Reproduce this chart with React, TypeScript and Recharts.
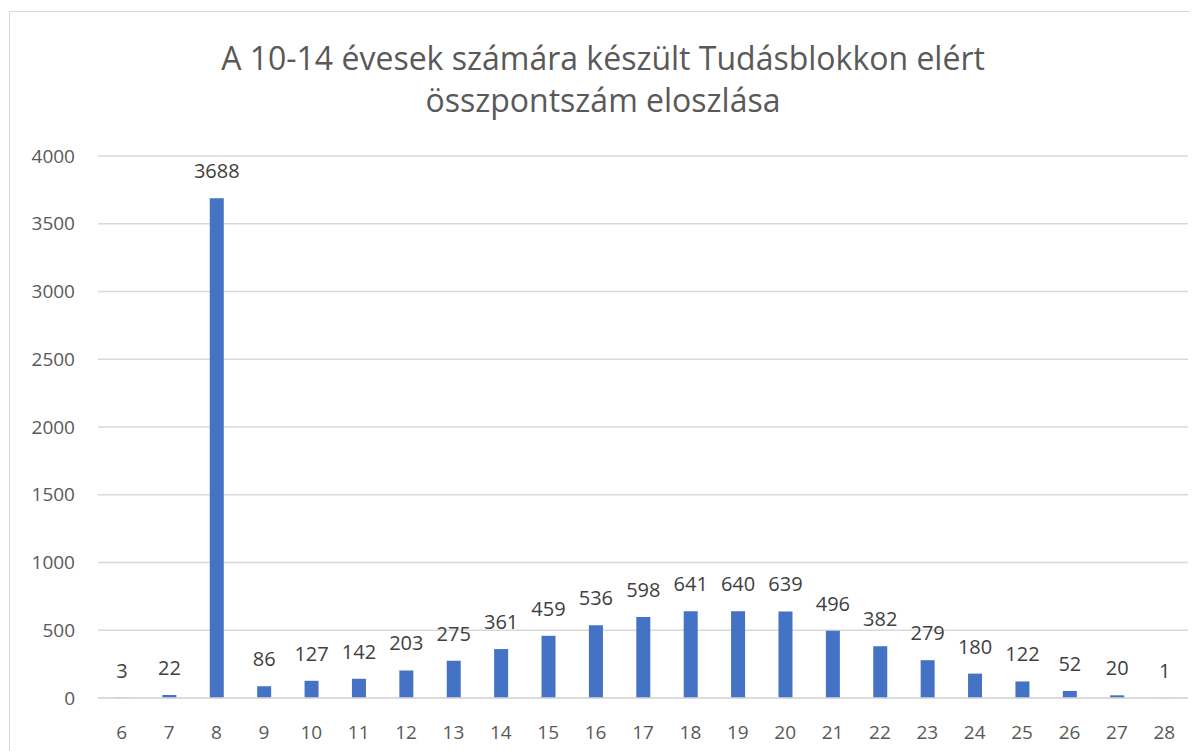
import { Bar, BarChart, CartesianGrid, LabelList, XAxis, YAxis } from "recharts";

const scores = ["6", "7", "8", "9", "10", "11", "12", "13", "14", "15", "16", "17", "18", "19", "20", "21", "22", "23", "24", "25", "26", "27", "28"];
const counts = [3, 22, 3688, 86, 127, 142, 203, 275, 361, 459, 536, 598, 641, 640, 639, 496, 382, 279, 180, 122, 52, 20, 1];
const yTicks = [0, 500, 1000, 1500, 2000, 2500, 3000, 3500, 4000];

const data = scores.map((name, i) => ({ name, value: counts[i] }));

const font = "'Open Sans', 'Noto Sans', sans-serif";

export default function App() {
  return (
    <div style={{ position: "relative", width: 1190, height: 743, fontFamily: font, overflow: "hidden" }}>
      <div
        style={{
          position: "absolute",
          left: 1,
          top: 3,
          width: 1300,
          height: 900,
          border: "1.5px solid #d9d9d9",
          boxSizing: "border-box",
        }}
      />
      <div
        style={{
          position: "absolute",
          left: 0,
          top: 29,
          width: 1190,
          textAlign: "center",
          fontSize: 32,
          lineHeight: "42px",
          color: "#595959",
        }}
      >
        A 10-14 évesek számára készült Tudásblokkon elért
        <br />
        összpontszám eloszlása
      </div>
      <BarChart
        width={1190}
        height={743}
        data={data}
        margin={{ top: 148, right: 10, left: 0, bottom: 13 }}
        style={{ position: "absolute", left: 0, top: 0 }}
      >
        <CartesianGrid vertical={false} stroke="#d9d9d9" strokeWidth={1.5} />
        <XAxis
          dataKey="name"
          height={40}
          tickLine={false}
          axisLine={{ stroke: "#d9d9d9", strokeWidth: 1.5 }}
          tickSize={0}
          tickMargin={28}
          tick={{ fill: "#595959", fontSize: 19, fontFamily: font }}
          interval={0}
        />
        <YAxis
          width={90}
          domain={[0, 4000]}
          ticks={yTicks}
          axisLine={false}
          tickLine={false}
          tickSize={0}
          tickMargin={23}
          tick={{ fill: "#595959", fontSize: 19, fontFamily: font }}
        />
        <Bar dataKey="value" fill="#4472C4" barSize={14} isAnimationActive={false}>
          <LabelList
            dataKey="value"
            position="top"
            offset={20}
            style={{ fill: "#404040", fontSize: 20, fontFamily: font }}
          />
        </Bar>
      </BarChart>
    </div>
  );
}
